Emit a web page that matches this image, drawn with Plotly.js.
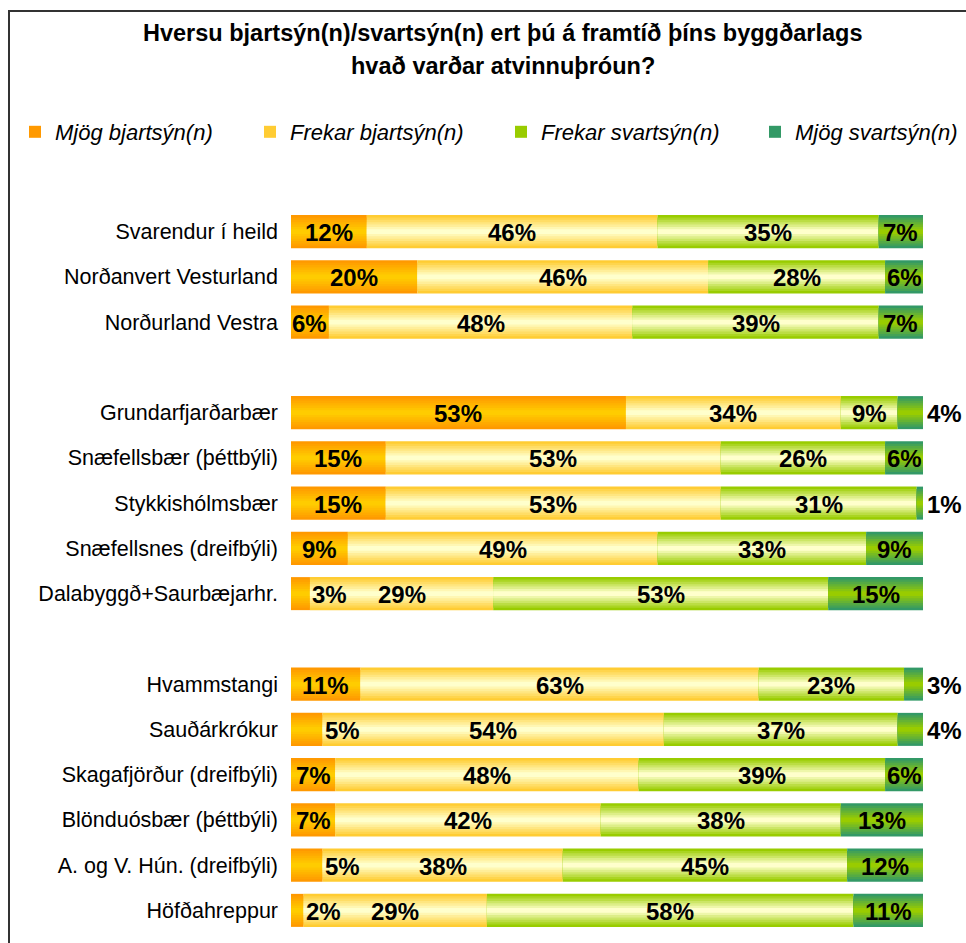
<!DOCTYPE html>
<html><head><meta charset="utf-8">
<script src="https://cdn.plot.ly/plotly-3.0.1.min.js"></script>
<style>
body{margin:0;background:#fff}
#chart{position:absolute;left:0;top:0;width:966px;height:943px}
#frame{position:absolute;left:8px;top:10px;width:958px;height:933px;border-left:2px solid #333;border-top:2px solid #333;pointer-events:none}
</style>
</head><body>
<div id="chart"></div><div id="frame"></div>
<script>
// ---- data ----
const categories = ["Svarendur í heild","Norðanvert Vesturland","Norðurland Vestra"," ",
  "Grundarfjarðarbær","Snæfellsbær (þéttbýli)","Stykkishólmsbær","Snæfellsnes (dreifbýli)","Dalabyggð+Saurbæjarhr.","  ",
  "Hvammstangi","Sauðárkrókur","Skagafjörður (dreifbýli)","Blönduósbær (þéttbýli)","A. og V. Hún. (dreifbýli)","Höfðahreppur"];
const mjogBjartsyn   = [12,20, 6,null,53,15,15, 9, 3,null,11, 5, 7, 7, 5, 2];
const frekarBjartsyn = [46,46,48,null,34,53,53,49,29,null,63,54,48,42,38,29];
const frekarSvartsyn = [35,28,39,null, 9,26,31,33,53,null,23,37,39,38,45,58];
const mjogSvartsyn   = [ 7, 6, 7,null, 4, 6, 1, 9,15,null, 3, 4, 6,13,12,11];
const seriesNames = ["Mjög bjartsýn(n)","Frekar bjartsýn(n)","Frekar svartsýn(n)","Mjög svartsýn(n)"];
const titleLines = ["Hversu bjartsýn(n)/svartsýn(n) ert þú á framtíð þíns byggðarlags","hvað varðar atvinnuþróun?"];

// ---- styles ----
const edgeColors   = [[255,153,0],[255,204,51],[153,204,0],[51,153,102]];
const centerColors = [[255,204,0],[255,255,204],[255,255,204],[153,204,0]];
const legendTextX  = [55, 290, 541, 795];
const BAR_W = 0.73, BANDS = 7;
const W = 966, H = 943;
const M = {l:291, r:0, t:209, b:10};
const PX_PER_100 = 632;                  // pixel length of a 100 % bar
const plotH = H - M.t - M.b, plotW = W - M.l - M.r;
const xMax = 100 * plotW / PX_PER_100;
const px2x = p => (p - M.l) / plotW;
const px2y = p => (H - M.b - p) / plotH;
const FONT = "Liberation Sans, Arial, sans-serif";

const allSeries = [mjogBjartsyn, frekarBjartsyn, frekarSvartsyn, mjogSvartsyn];
const bases = allSeries.map((s, si) => s.map((v, i) => {
  let b = 0; for (let k = 0; k < si; k++) b += (allSeries[k][i] || 0); return b;
}));
const mix = (a, b, t) => 'rgb(' + a.map((v, i) => Math.round(v + (b[i] - v) * t)).join(',') + ')';
const legendId = si => si === 0 ? 'legend' : 'legend' + (si + 1);

const traces = [];
allSeries.forEach((s, si) => {
  for (let k = 0; k < BANDS; k++) {
    const t = k / (BANDS - 1);
    traces.push({
      type: 'bar', orientation: 'h', y: categories, x: s.map(v => v == null ? 0 : v), base: bases[si],
      width: BAR_W * (1 - k / BANDS), name: seriesNames[si], legendgroup: 'g' + si, legend: legendId(si),
      showlegend: k === 0, marker: {color: mix(edgeColors[si], centerColors[si], t), line: {width: 0}},
      hoverinfo: 'skip'
    });
  }
});

// value labels (data coordinates)
const isSmallOut = (si, v) => v != null && ((si === 0 && v < 6) || (si === 3 && v < 5));
const valueLabels = [];
allSeries.forEach((s, si) => s.forEach((v, i) => {
  if (v == null) return;
  const out = isSmallOut(si, v);
  valueLabels.push({
    text: v + '%', xref: 'x', yref: 'y', y: categories[i],
    x: out ? bases[si][i] + v + (si === 3 ? 0.3 : 0) : bases[si][i] + v / 2,
    xanchor: out ? 'left' : 'center', yanchor: 'middle', yshift: -1, showarrow: false,
    font: {family: FONT, size: 24, color: '#000', weight: 'bold'}
  });
}));

const layout = {
  width: W, height: H, margin: M, barmode: 'overlay',
  paper_bgcolor: '#fff', plot_bgcolor: 'rgba(0,0,0,0)', showlegend: true,
  xaxis: {range: [0, xMax], visible: false, fixedrange: true},
  yaxis: {type: 'category', categoryarray: categories, categoryorder: 'array',
          range: [categories.length - 0.5, -0.5], autorange: false,
          showgrid: false, zeroline: false, showline: false, ticks: '', ticklabelstandoff: 12,
          tickfont: {family: FONT, size: 21.5, color: '#000'}, fixedrange: true},
  annotations: titleLines.map((t, i) => ({
    text: t, xref: 'paper', yref: 'paper', x: px2x(503), y: px2y(33 + 33 * i),
    xanchor: 'center', yanchor: 'middle', showarrow: false,
    font: {family: FONT, size: 23.5, color: '#000', weight: 'bold'}
  })).concat(valueLabels)
};
seriesNames.forEach((n, si) => {
  layout[legendId(si)] = {
    orientation: 'h', xref: 'container', yref: 'container', x: (legendTextX[si] - 40) / W, y: 1 - 132 / H,
    yanchor: 'middle', xanchor: 'left', bgcolor: 'rgba(0,0,0,0)',
    font: {family: FONT, size: 22, color: '#000', style: 'italic'}
  };
});
Plotly.newPlot('chart', traces, layout, {displayModeBar: false, staticPlot: true});
</script>
</body></html>
